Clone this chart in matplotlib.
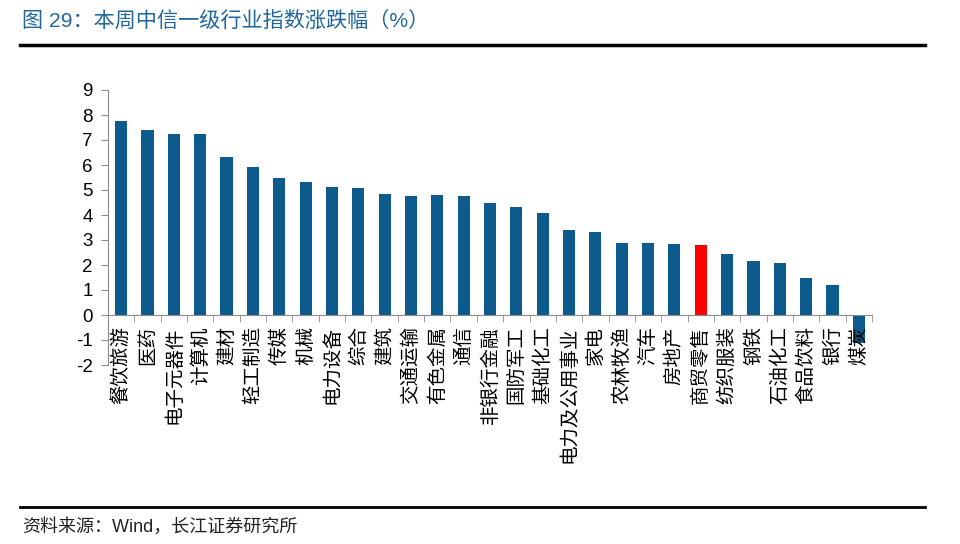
import numpy as np
import matplotlib.pyplot as plt
from matplotlib.lines import Line2D

plt.rcParams['font.family'] = ['Liberation Sans', 'Noto Sans CJK SC', 'DejaVu Sans']

# industries and weekly change (%)
industries = ['餐饮旅游', '医药', '电子元器件', '计算机', '建材', '轻工制造', '传媒', '机械',
              '电力设备', '综合', '建筑', '交通运输', '有色金属', '通信', '非银行金融',
              '国防军工', '基础化工', '电力及公用事业', '家电', '农林牧渔', '汽车', '房地产',
              '商贸零售', '纺织服装', '钢铁', '石油化工', '食品饮料', '银行', '煤炭']
changes = [7.76, 7.40, 7.24, 7.23, 6.31, 5.92, 5.49, 5.31,
           5.11, 5.07, 4.84, 4.76, 4.79, 4.75, 4.47,
           4.33, 4.08, 3.39, 3.31, 2.88, 2.87, 2.83,
           2.80, 2.43, 2.16, 2.09, 1.47, 1.21, -1.10]
highlight = '商贸零售'
yticks = list(range(-2, 10))

blue = '#0d5a8c'
red = '#ff0000'
grey = '#8c8c8c'

fig = plt.figure(figsize=(9.6, 5.44), dpi=100)
ax = fig.add_axes([108/960, 1-365/544, (872-108)/960, (365-90)/544])

x = np.arange(len(industries))
colors = [red if n == highlight else blue for n in industries]
ax.bar(x, changes, width=0.46, color=colors, zorder=1)

ax.set_xlim(-0.5, len(industries)-0.5)
ax.set_ylim(-2, 9)
ax.set_yticks(yticks)
ax.set_yticklabels([str(v) for v in yticks], fontsize=13.5)

ax.spines['top'].set_visible(False)
ax.spines['right'].set_visible(False)
ax.spines['bottom'].set_position(('data', 0))
ax.spines['bottom'].set_color(grey)
ax.spines['left'].set_color(grey)
ax.tick_params(axis='y', direction='out', length=5, color=grey, pad=6)

# rotated labels, reading bottom-to-top, end at the axis
ax.set_xticks(x)
ax.set_xticklabels(industries, fontsize=14, rotation=90,
                   family=['Noto Sans CJK SC'], ha='center', va='top')
ax.tick_params(axis='x', which='major', length=0, pad=8)
ax.set_xticks(np.arange(-0.5, len(industries)), minor=True)
ax.tick_params(axis='x', which='minor', direction='out', length=5, color=grey)

fig.text(22/960, 1-21/544, '图 29：本周中信一级行业指数涨跌幅（%）', fontsize=15.2,
         color='#22679a', va='center', ha='left',
         family=['Liberation Sans', 'Noto Sans CJK SC'])
fig.add_artist(Line2D([20/960, 925/960], [1-45/544, 1-45/544], color='black', lw=2.5))
fig.add_artist(Line2D([20/960, 925/960], [1-507/544, 1-507/544], color='black', lw=2))
fig.text(22/960, 1-527/544, '资料来源：Wind，长江证券研究所', fontsize=13,
         color='#222222', va='center', ha='left',
         family=['Liberation Sans', 'Noto Sans CJK SC'])

fig.savefig('out.png', dpi=100)
